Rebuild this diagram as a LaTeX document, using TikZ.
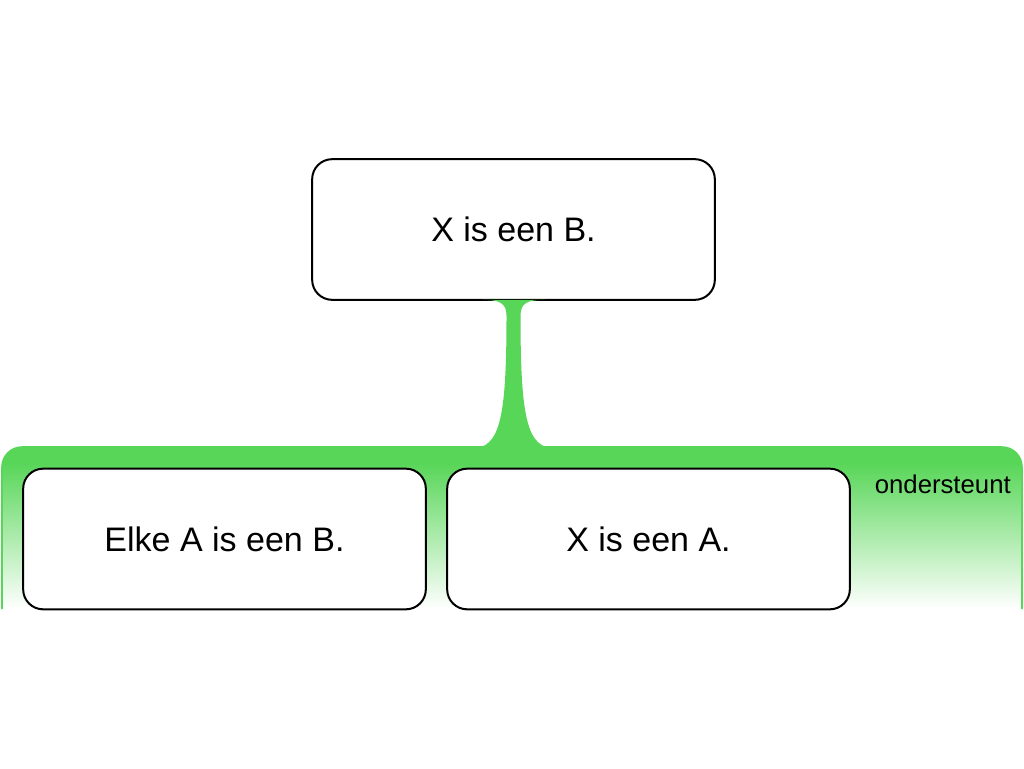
\documentclass[tikz,border=0pt]{standalone}
\usepackage{fontspec}
\setmainfont{Liberation Sans}
\definecolor{gr}{RGB}{88,214,88}
\pgfdeclareverticalshading{greenfade}{100bp}{color(0bp)=(white); color(25bp)=(white); color(70bp)=(gr); color(100bp)=(gr)}
\tikzset{
  claim/.style={draw=black, line width=1.5pt, fill=white, rounded corners=15pt,
    minimum width=302pt, minimum height=105.5pt, font=\fontsize{25.5}{30}\selectfont, inner sep=0pt},
  lbl/.style={font=\fontsize{19.3}{23}\selectfont, inner sep=0pt}
}
\begin{document}
\begin{tikzpicture}[x=0.75pt,y=-0.75pt]
\useasboundingbox (0,0) rectangle (1024,768);
\node[claim] (top) at (513.5,229.5) {X is een B.};
% band
\shade[shading=greenfade] (2,609) -- (2,467) arc[start angle=180,end angle=270,radius=20] -- (1002,447) arc[start angle=270,end angle=360,radius=20] -- (1022,609) -- cycle;
\draw[gr, line width=1.2pt] (2,609) -- (2,467) arc[start angle=180,end angle=270,radius=20] -- (1002,447) arc[start angle=270,end angle=360,radius=20] -- (1022,609);
% stem
\coordinate (s) at (top.south);
\begin{scope}[shift={(s)}]
\fill[gr] (-31.5,-1) .. controls (-14,-1) and (-7,2) .. (-7,15)
  .. controls (-7,120) and (-14,147.5) .. (-42,147.5) -- (42,147.5)
  .. controls (14,147.5) and (7,120) .. (7,15)
  .. controls (7,2) and (14,-1) .. (31.5,-1) -- cycle;
\end{scope}
\node[claim] (l) at (224.5,539) {Elke A is een B.};
\node[claim] (r) at (648.5,539) {X is een A.};
\node[lbl, anchor=east] (o) at (1011,484) {ondersteunt};
\end{tikzpicture}
\end{document}
